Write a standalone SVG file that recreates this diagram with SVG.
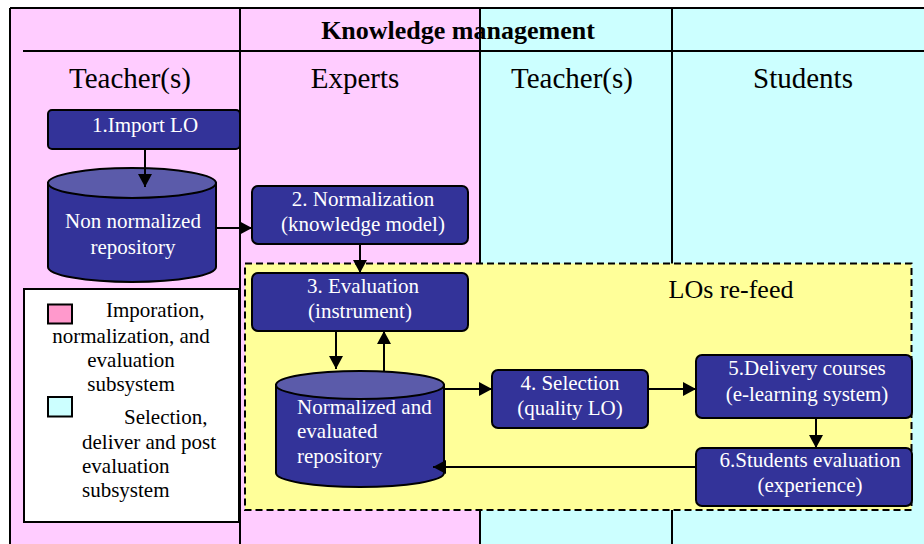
<svg xmlns="http://www.w3.org/2000/svg" width="924" height="544" viewBox="0 0 924 544">
<style>
.t{font-family:"Liberation Serif","Times New Roman",serif;fill:#000}
.w{font-family:"Liberation Serif","Times New Roman",serif;fill:#fff;font-size:21px;text-anchor:middle}
.ws{font-family:"Liberation Serif","Times New Roman",serif;fill:#fff;font-size:21px;text-anchor:start}
.box{fill:#333399;stroke:#000;stroke-width:2}
.cyl{fill:#333399;stroke:#000;stroke-width:2}
.cyltop{fill:#5B5BAA;stroke:#000;stroke-width:2}
.ln{stroke:#000;stroke-width:2;fill:none}
.con{stroke:#000;stroke-width:2;fill:none;marker-end:url(#ah)}
</style>
<defs>
<marker id="ah" markerUnits="userSpaceOnUse" markerWidth="14" markerHeight="14" refX="13" refY="7" orient="auto">
<path d="M0,0 L13,7 L0,14 Z" fill="#000"/>
</marker>
</defs>
<rect width="924" height="544" fill="#fff"/>
<g id="lanes">
<rect x="10" y="8" width="470" height="536" fill="#FFCCFF"/>
<rect x="480" y="8" width="444" height="536" fill="#CCFFFF"/>
<line class="ln" x1="10" y1="8" x2="924" y2="8"/>
<line class="ln" x1="23" y1="51" x2="924" y2="51"/>
<line class="ln" x1="10" y1="8" x2="10" y2="544"/>
<line class="ln" x1="240" y1="8" x2="240" y2="544"/>
<line class="ln" x1="480" y1="8" x2="480" y2="544"/>
<line class="ln" x1="672" y1="8" x2="672" y2="544"/>
<text class="t" x="458" y="39" font-size="26" font-weight="bold" text-anchor="middle">Knowledge management</text>
<text class="t" x="130" y="88" font-size="29" text-anchor="middle">Teacher(s)</text>
<text class="t" x="355" y="88" font-size="29" text-anchor="middle">Experts</text>
<text class="t" x="572" y="88" font-size="29" text-anchor="middle">Teacher(s)</text>
<text class="t" x="803" y="88" font-size="29" text-anchor="middle">Students</text>
</g>
<g id="legend">
<rect x="24" y="289" width="215" height="233" fill="#fff" stroke="#000" stroke-width="2"/>
<rect x="48" y="304.5" width="24" height="19" fill="#FF99CC" stroke="#000" stroke-width="2"/>
<rect x="48" y="397" width="24" height="19.5" fill="#CCFFFF" stroke="#000" stroke-width="2"/>
<text class="t" font-size="21" x="106" y="317">Imporation,</text>
<text class="t" font-size="21" x="131" y="343" text-anchor="middle">normalization, and</text>
<text class="t" font-size="21" x="131" y="367" text-anchor="middle">evaluation</text>
<text class="t" font-size="21" x="131" y="391" text-anchor="middle">subsystem</text>
<text class="t" font-size="21" x="124" y="424">Selection,</text>
<text class="t" font-size="21" x="82" y="449">deliver and post</text>
<text class="t" font-size="21" x="82" y="473">evaluation</text>
<text class="t" font-size="21" x="82" y="497">subsystem</text>
</g>
<g id="refeed">
<rect x="245" y="263.5" width="666.5" height="246.5" fill="#FFFF99" stroke="#000" stroke-width="2" stroke-dasharray="7,4"/>
<text class="t" x="731" y="298" font-size="26" text-anchor="middle">LOs re-feed</text>
</g>
<g id="n1">
<rect class="box" x="48" y="110" width="192" height="39" rx="4"/>
<text class="w" x="145" y="132">1.Import LO</text>
</g>
<g id="repo1">
<path class="cyl" d="M48,183 L48,267 A84,15 0 0 0 216,267 L216,183 Z"/>
<ellipse class="cyltop" cx="132" cy="183" rx="84" ry="15"/>
<text class="w" x="133" y="228">Non normalized</text>
<text class="w" x="133" y="254">repository</text>
</g>
<g id="n2">
<rect class="box" x="252" y="186" width="216" height="58" rx="6"/>
<text class="w" x="363" y="206">2. Normalization</text>
<text class="w" x="363" y="231">(knowledge model)</text>
</g>
<g id="n3">
<rect class="box" x="252" y="273" width="216" height="58" rx="6"/>
<text class="w" x="363" y="293">3. Evaluation</text>
<text class="w" x="360" y="318">(instrument)</text>
</g>
<g id="repo2">
<path class="cyl" d="M276,385 L276,473 A84,14 0 0 0 444,473 L444,385 Z"/>
<ellipse class="cyltop" cx="360" cy="385" rx="84" ry="14"/>
<text class="ws" x="297" y="414">Normalized and</text>
<text class="ws" x="297" y="438">evaluated</text>
<text class="ws" x="297" y="463">repository</text>
</g>
<g id="n4">
<rect class="box" x="492" y="370" width="156" height="58" rx="6"/>
<text class="w" x="570" y="390">4. Selection</text>
<text class="w" x="570" y="415">(quality LO)</text>
</g>
<g id="n5">
<rect class="box" x="696" y="355" width="216" height="63" rx="6"/>
<text class="w" x="807" y="375">5.Delivery courses</text>
<text class="w" x="807" y="401">(e-learning system)</text>
</g>
<g id="n6">
<rect class="box" x="696" y="448" width="216" height="58" rx="6"/>
<text class="w" x="810" y="467">6.Students evaluation</text>
<text class="w" x="810" y="492">(experience)</text>
</g>
<g id="connectors">
<line class="con" x1="145" y1="149" x2="145" y2="187"/>
<line class="con" x1="216" y1="228" x2="252" y2="228"/>
<line class="con" x1="360" y1="244" x2="360" y2="273"/>
<line class="con" x1="336" y1="331" x2="336" y2="369"/>
<line class="con" x1="384" y1="372" x2="384" y2="331"/>
<line class="con" x1="444" y1="389" x2="492" y2="389"/>
<line class="con" x1="648" y1="389" x2="696" y2="389"/>
<line class="con" x1="816" y1="418" x2="816" y2="448"/>
<line class="con" x1="696" y1="467" x2="433" y2="467"/>
</g>
</svg>
